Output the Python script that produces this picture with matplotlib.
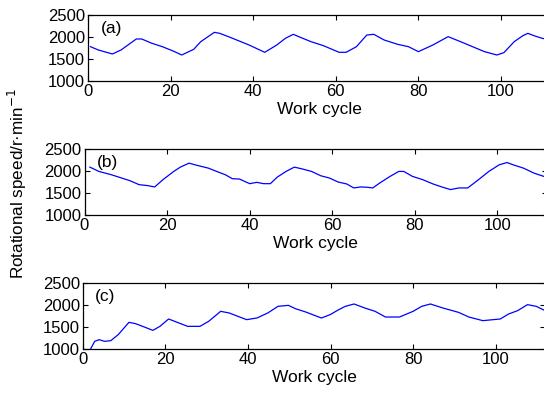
import matplotlib
matplotlib.use("Agg")
import matplotlib.pyplot as plt

plt.rcParams['font.family'] = ['Liberation Sans', 'DejaVu Sans']

# Panel (a)
xa = [0.6, 2.5, 5.9, 8, 11.7, 13, 15.5, 18, 20.6, 22.7, 25.6, 27.3, 30.6, 31.9, 34, 36, 39,
      42.8, 45.7, 47.8, 49.7, 52, 54, 57, 60.8, 62.5, 65, 67.5, 69.2, 71.7, 75, 77.6, 80,
      83.5, 87.2, 90.2, 93.5, 96, 99, 100.7, 103.2, 105.3, 106.5, 108.2, 110, 112]
ya = [1780, 1705, 1614, 1705, 1955, 1955, 1856, 1780, 1682, 1591, 1720, 1894, 2106, 2083, 2008,
      1932, 1818, 1652, 1818, 1970, 2061, 1970, 1894, 1803, 1652, 1652, 1780, 2045, 2061, 1932,
      1833, 1780, 1667, 1818, 2008, 1894, 1765, 1667, 1591, 1644, 1894, 2030, 2083, 2023, 1970, 1930]

# Panel (b)
xb = [1.3, 3.5, 6.5, 9, 11, 13.2, 15.3, 17, 19, 21.6, 23.2, 25.3, 27.4, 30, 32, 34.1, 35.8,
      37.5, 40, 41.7, 43.4, 45, 46.7, 48.8, 50.8, 52.6, 55, 57.2, 59.3, 61.4, 63.5, 65.2, 66.9,
      68.5, 69.8, 71.5, 74, 76.1, 77.3, 79.4, 81.9, 84.4, 86.5, 88.6, 90.7, 92.8, 95.4, 97.9,
      100.4, 102.3, 103.8, 106.3, 108.8, 111.2, 112]
yb = [2088, 1990, 1915, 1840, 1780, 1690, 1668, 1638, 1803, 1990, 2088, 2178, 2125, 2065, 1990,
      1915, 1825, 1818, 1712, 1742, 1712, 1712, 1863, 1990, 2088, 2050, 1990, 1892, 1840, 1750,
      1705, 1615, 1638, 1630, 1615, 1728, 1878, 1990, 1990, 1878, 1803, 1705, 1638, 1578, 1615,
      1615, 1803, 1990, 2140, 2193, 2140, 2065, 1953, 1878, 1860]

# Panel (c)
xc = [1.9, 2.9, 4, 5.3, 6.8, 8.6, 11.2, 12.8, 14.5, 17, 18.7, 20.8, 22.9, 25.4, 28.4, 30.5,
      33.4, 35.5, 38, 39.7, 42.2, 44.8, 47.3, 49.8, 51.5, 54, 56.1, 57.8, 59.9, 62, 63.6, 65.7,
      68.3, 70.8, 73.3, 76.7, 80, 82.1, 84.2, 87.2, 91, 93.5, 96.9, 99.4, 101.1, 103.1, 105.3,
      107.7, 109.8, 111.8]
yc = [1000, 1174, 1212, 1174, 1189, 1326, 1606, 1576, 1515, 1424, 1515, 1682, 1606, 1515, 1515,
      1629, 1856, 1818, 1727, 1667, 1705, 1818, 1970, 1992, 1917, 1841, 1765, 1705, 1780, 1894,
      1970, 2023, 1932, 1856, 1727, 1727, 1856, 1970, 2023, 1932, 1833, 1727, 1644, 1667, 1682,
      1795, 1871, 2008, 1970, 1879]

labels = ['(a)', '(b)', '(c)']
yticks = [1000, 1500, 2000, 2500]
xticks = [0, 20, 40, 60, 80, 100]

W, H = 544, 394
fig = plt.figure(figsize=(W / 100, H / 100), dpi=100)

# axes boxes in pixels: left, top, bottom
boxes = [(88, 15, 81), (84.5, 149, 215), (82.7, 283, 349)]
ppu = 4.13
xmax = 112
series = [(xa, ya), (xb, yb), (xc, yc)]

for (left, top, bot), (xs, ys), lab in zip(boxes, series, labels):
    ax = fig.add_axes([left / W, 1 - bot / H, xmax * ppu / W, (bot - top) / H])
    ax.plot(xs, ys, color='#0000ff', lw=0.9)
    ax.set_xlim(0, xmax)
    ax.set_ylim(1000, 2500)
    ax.set_xticks(xticks)
    ax.set_yticks(yticks)
    ax.tick_params(direction='in', top=True, right=True, length=3.5, width=0.8,
                   labelsize=12, pad=2)
    for s in ax.spines.values():
        s.set_linewidth(0.9)
    ax.set_xlabel('Work cycle', fontsize=12.5, labelpad=2)
    ax.text(3, 2200, lab, fontsize=12.5, va='center', ha='left')

fig.text(17 / W, 1 - 183 / H, 'Rotational speed/r·min$^{-1}$', rotation=90,
         va='center', ha='center', fontsize=12.3)

fig.savefig('out.png', dpi=100)
